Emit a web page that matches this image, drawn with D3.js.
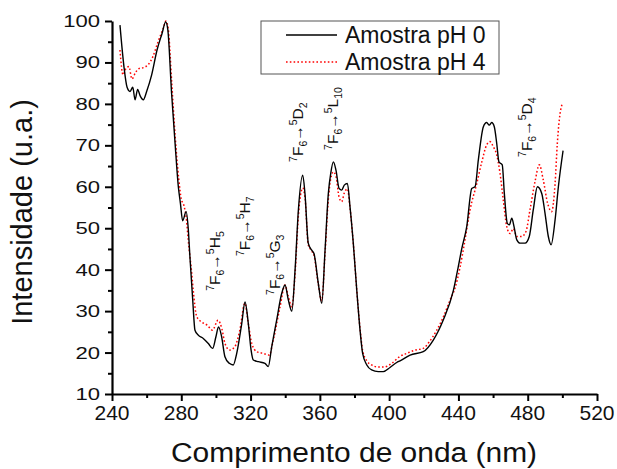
<!DOCTYPE html>
<html>
<head>
<meta charset="utf-8">
<script src="https://cdn.jsdelivr.net/npm/d3@7"></script>
<style>
  body { margin: 0; background: #fff; }
  svg { display: block; font-family: "Liberation Sans", Arial, sans-serif; }
</style>
</head>
<body>
<svg id="chart"></svg>
<script>
// data
var wavelengthPh0 = [244.6, 246.9, 248.7, 250.4, 252, 253.3, 254.8, 256.2, 258.1, 260, 262.9, 266, 268.9, 271, 272.2,
    274.4, 276.4, 278.3, 279.5, 280.8, 282.8, 284, 285, 286.6, 287.9, 289.8, 292.7, 295.6, 298.1, 300, 301.5, 303.3,
    305.2, 307.7, 310, 312, 314.9, 316.8, 318.7, 320.3, 321.6, 324.5, 328.3, 330.2, 332.2, 335.1, 338, 339.9, 341.8,
    343.8, 345.7, 347.6, 350.1, 351.4, 353.3, 355.3, 356.6, 359.1, 361.1, 363, 364.9, 366.3, 367.8, 369.3, 371.1,
    372.6, 374.1, 375.9, 377.4, 379.3, 381.3, 383.2, 384.7, 387.1, 389.9, 393.7, 396.6, 400.5, 404.4, 406.3, 412.1,
    419.7, 425.5, 431.3, 437.1, 439.9, 441.9, 444.8, 447.7, 449.6, 451.5, 454.4, 456.3, 457.8, 459.2, 460.7, 462.1,
    463.4, 465.3, 466.5, 468.2, 469.4, 470.8, 472.1, 473.7, 475.6, 478.5, 480.9, 483.2, 485.6, 488.1, 490, 491.9,
    493.5, 495.8, 497.7, 500.4];
var intensityPh0 = [99, 89, 84, 83, 84, 81, 83.5, 82, 81, 83, 87, 93, 97, 99.8, 98,
    82.6, 70.6, 60, 56, 51.8, 54, 50, 43, 32.7, 25.4, 24.2, 23.4, 22.2, 21, 23.8, 26.2, 23.8,
    19, 17.4, 17, 19.8, 27, 32.2, 27, 20.6, 18.2, 17.8, 17.4, 16.6, 21.4, 27.9, 34.3, 36.3, 32.7,
    30, 40, 54.4, 62.8, 58.4, 46.4, 44.7, 43.9, 36.7, 31.9, 44.7, 58.4, 63.3, 66, 64, 59.6,
    59.2, 60.4, 60.8, 55.2, 46.4, 35.1, 25.4, 19.8, 17, 15.8, 15.4, 15.4, 16.4, 17.6, 18, 19.4,
    20.2, 23, 27.9, 35, 40.7, 45, 50.4, 59.6, 60, 66.5, 74.5, 75.5, 74.9, 75.5, 74.5, 70.5,
    66, 65.3, 58.4, 51.2, 50.8, 52.4, 50.4, 47.2, 46.4, 46.4, 48, 54.4, 60, 58.4, 53.6, 48,
    46, 52, 60, 68.7];

var wavelengthPh4 = [244.6, 246.4, 248, 249.8, 251.5, 253.5, 255.5, 258.5, 261, 263.7, 266.6, 269.4, 271.2, 272.5,
    274.5, 276.5, 278.5, 280, 281.5, 283, 284, 286, 286.9, 288.9, 291.6, 295, 298, 301.2, 303.5, 305.2, 308, 310.9,
    313.8, 316.7, 318.7, 320.7, 323.6, 327.4, 330.8, 333.1, 337, 339.9, 341.8, 343.8, 345.7, 347.6, 350.1, 351.5,
    353.3, 355.3, 356.6, 359.1, 361.1, 363, 364.9, 366.3, 367.8, 369.3, 371.1, 372.6, 374.1, 375.9, 377.4, 379.3,
    381.3, 383.2, 384.7, 387.1, 389.9, 393.7, 397, 401.5, 406, 410.1, 415, 419.7, 423, 427.5, 431.5, 435.2, 438,
    440.9, 443.8, 446.7, 450.6, 453.5, 456.3, 458.2, 460.1, 462.1, 464, 465.9, 467.9, 469.8, 471.7, 473.7, 476.5,
    479, 481.3, 484.2, 486.7, 489, 491.5, 493.8, 495.8, 497.1, 498.7, 499.9];
var intensityPh4 = [93, 87, 88.5, 89, 86, 87.5, 88.5, 88.8, 89.5, 91.5, 95, 98, 100, 98,
    85, 72, 62, 57, 55.5, 52, 47.2, 39.2, 35, 28.7, 27.4, 26.6, 25.4, 27.8, 25.6, 22.2, 20.6, 21.4,
    25.4, 31.9, 27, 22.2, 20.2, 19.8, 19.4, 23, 31, 36.3, 33.5, 31, 39, 53, 59.7, 57,
    46, 44.5, 43.5, 36.5, 32.5, 44, 57, 62, 63.6, 62.5, 57.5, 56.4, 58.5, 59.5, 55, 46.4,
    35.1, 25.8, 20.5, 18, 17, 16.5, 16.5, 17.4, 19, 19.8, 20.6, 21, 22.5, 25.4, 28.8, 32.7, 35.5,
    40.5, 47.2, 54.4, 60.8, 66, 70.1, 70.9, 69.7, 67.7, 63.3, 56.8, 50.4, 48.7, 49.9, 48, 48,
    49.2, 54.4, 61.2, 65.3, 61.6, 56, 54, 60.8, 70.5, 77.7, 80];

var seriesNames = ["Amostra pH 0", "Amostra pH 4"];

var xTicks = [240, 280, 320, 360, 400, 440, 480, 520];
var xMinorTicks = [260, 300, 340, 380, 420, 460, 500];
var yTicks = [10, 20, 30, 40, 50, 60, 70, 80, 90, 100];
var yMinorTicks = [15, 25, 35, 45, 55, 65, 75, 85, 95];

// transition labels: final level, its subscript, anchor wavelength and intensity
var transLevel = ["H", "H", "G", "D", "L", "D"];
var transSub = ["5", "7", "3", "2", "10", "4"];
var transX = [302.4, 319.7, 337, 350.3, 370.5, 482.5];
var transY = [34.9, 43.3, 33.9, 66, 68.9, 67.2];

var iWidth = 617, iHeight = 469;
var svg = d3.select("#chart").attr("width", iWidth).attr("height", iHeight);

var xScale = d3.scaleLinear().domain([240, 520]).range([112, 597]);
var yScale = d3.scaleLinear().domain([10, 100]).range([394, 21]);

// eixos
svg.append("g").attr("transform", "translate(0,394)")
    .call(d3.axisBottom(xScale).tickValues(xTicks).tickSize(7).tickSizeOuter(0).tickFormat(""));
svg.append("g").attr("transform", "translate(0,394)")
    .call(d3.axisBottom(xScale).tickValues(xMinorTicks).tickSize(4).tickSizeOuter(0).tickFormat(""))
    .select(".domain").remove();
svg.append("g").attr("transform", "translate(112,0)")
    .call(d3.axisLeft(yScale).tickValues(yTicks).tickSize(7).tickSizeOuter(0).tickFormat(""));
svg.append("g").attr("transform", "translate(112,0)")
    .call(d3.axisLeft(yScale).tickValues(yMinorTicks).tickSize(4).tickSizeOuter(0).tickFormat(""))
    .select(".domain").remove();
svg.selectAll(".domain").attr("stroke", "#000").attr("stroke-width", 2.2);
svg.selectAll(".tick line").attr("stroke", "#000").attr("stroke-width", 2);

// tick labels
svg.selectAll(".xlab").data(xTicks).enter().append("text")
    .attr("x", d => xScale(d)).attr("y", 420)
    .attr("text-anchor", "middle").attr("font-size", 21).attr("fill", "#111")
    .text(d => d);
svg.selectAll(".ylab").data(yTicks).enter().append("text")
    .attr("transform", d => `translate(100,${yScale(d) + 6}) scale(1.3,1)`)
    .attr("text-anchor", "end").attr("font-size", 17).attr("fill", "#111")
    .text(d => d);

// titulos
svg.append("text").attr("transform", "translate(354,462) scale(1.07,1)").attr("text-anchor", "middle")
    .attr("font-size", 28).attr("fill", "#111").text("Comprimento de onda (nm)");
svg.append("text").attr("transform", "translate(32,212) rotate(-90)").attr("text-anchor", "middle")
    .attr("font-size", 29).attr("fill", "#111").text("Intensidade (u.a.)");

// curvas
var line = d3.line().curve(d3.curveMonotoneX)
    .x(d => xScale(d[0])).y(d => yScale(d[1]));

svg.append("path")
    .datum(d3.zip(wavelengthPh4, intensityPh4))
    .attr("fill", "none").attr("stroke", "#ff0000").attr("stroke-width", 1.5)
    .attr("stroke-dasharray", "1.6,2.2").attr("d", line);
svg.append("path")
    .datum(d3.zip(wavelengthPh0, intensityPh0))
    .attr("fill", "none").attr("stroke", "#000").attr("stroke-width", 1.4).attr("d", line);

// transições
transX.forEach(function(x, i) {
    var t = svg.append("text")
        .attr("transform", `translate(${xScale(x)},${yScale(transY[i])}) rotate(-90)`)
        .attr("font-size", 15.5).attr("fill", "#111");
    t.append("tspan").attr("font-size", 10.5).attr("dy", -6).text("7");
    t.append("tspan").attr("dy", 6).text("F");
    t.append("tspan").attr("font-size", 10.5).attr("dy", 4).text("6");
    t.append("tspan").attr("dy", -4).text("\u2192");
    t.append("tspan").attr("font-size", 10.5).attr("dy", -6).text("5");
    t.append("tspan").attr("dy", 6).text(transLevel[i]);
    t.append("tspan").attr("font-size", 10.5).attr("dy", 4).text(transSub[i]);
});

// legenda
var legend = svg.append("g");
legend.append("rect").attr("x", 261).attr("y", 21).attr("width", 238).attr("height", 53)
    .attr("fill", "#fff").attr("stroke", "#555").attr("stroke-width", 1);
seriesNames.forEach(function(name, i) {
    var ly = 35 + i * 27;
    legend.append("line").attr("x1", 286).attr("x2", 337).attr("y1", ly).attr("y2", ly)
        .attr("stroke", i ? "#ff0000" : "#000").attr("stroke-width", i ? 1.5 : 1.4)
        .attr("stroke-dasharray", i ? "1.6,2.2" : null);
    legend.append("text").attr("x", 345).attr("y", 43 + i * 27)
        .attr("font-size", 23).attr("fill", "#111").text(name);
});
</script>
</body>
</html>
